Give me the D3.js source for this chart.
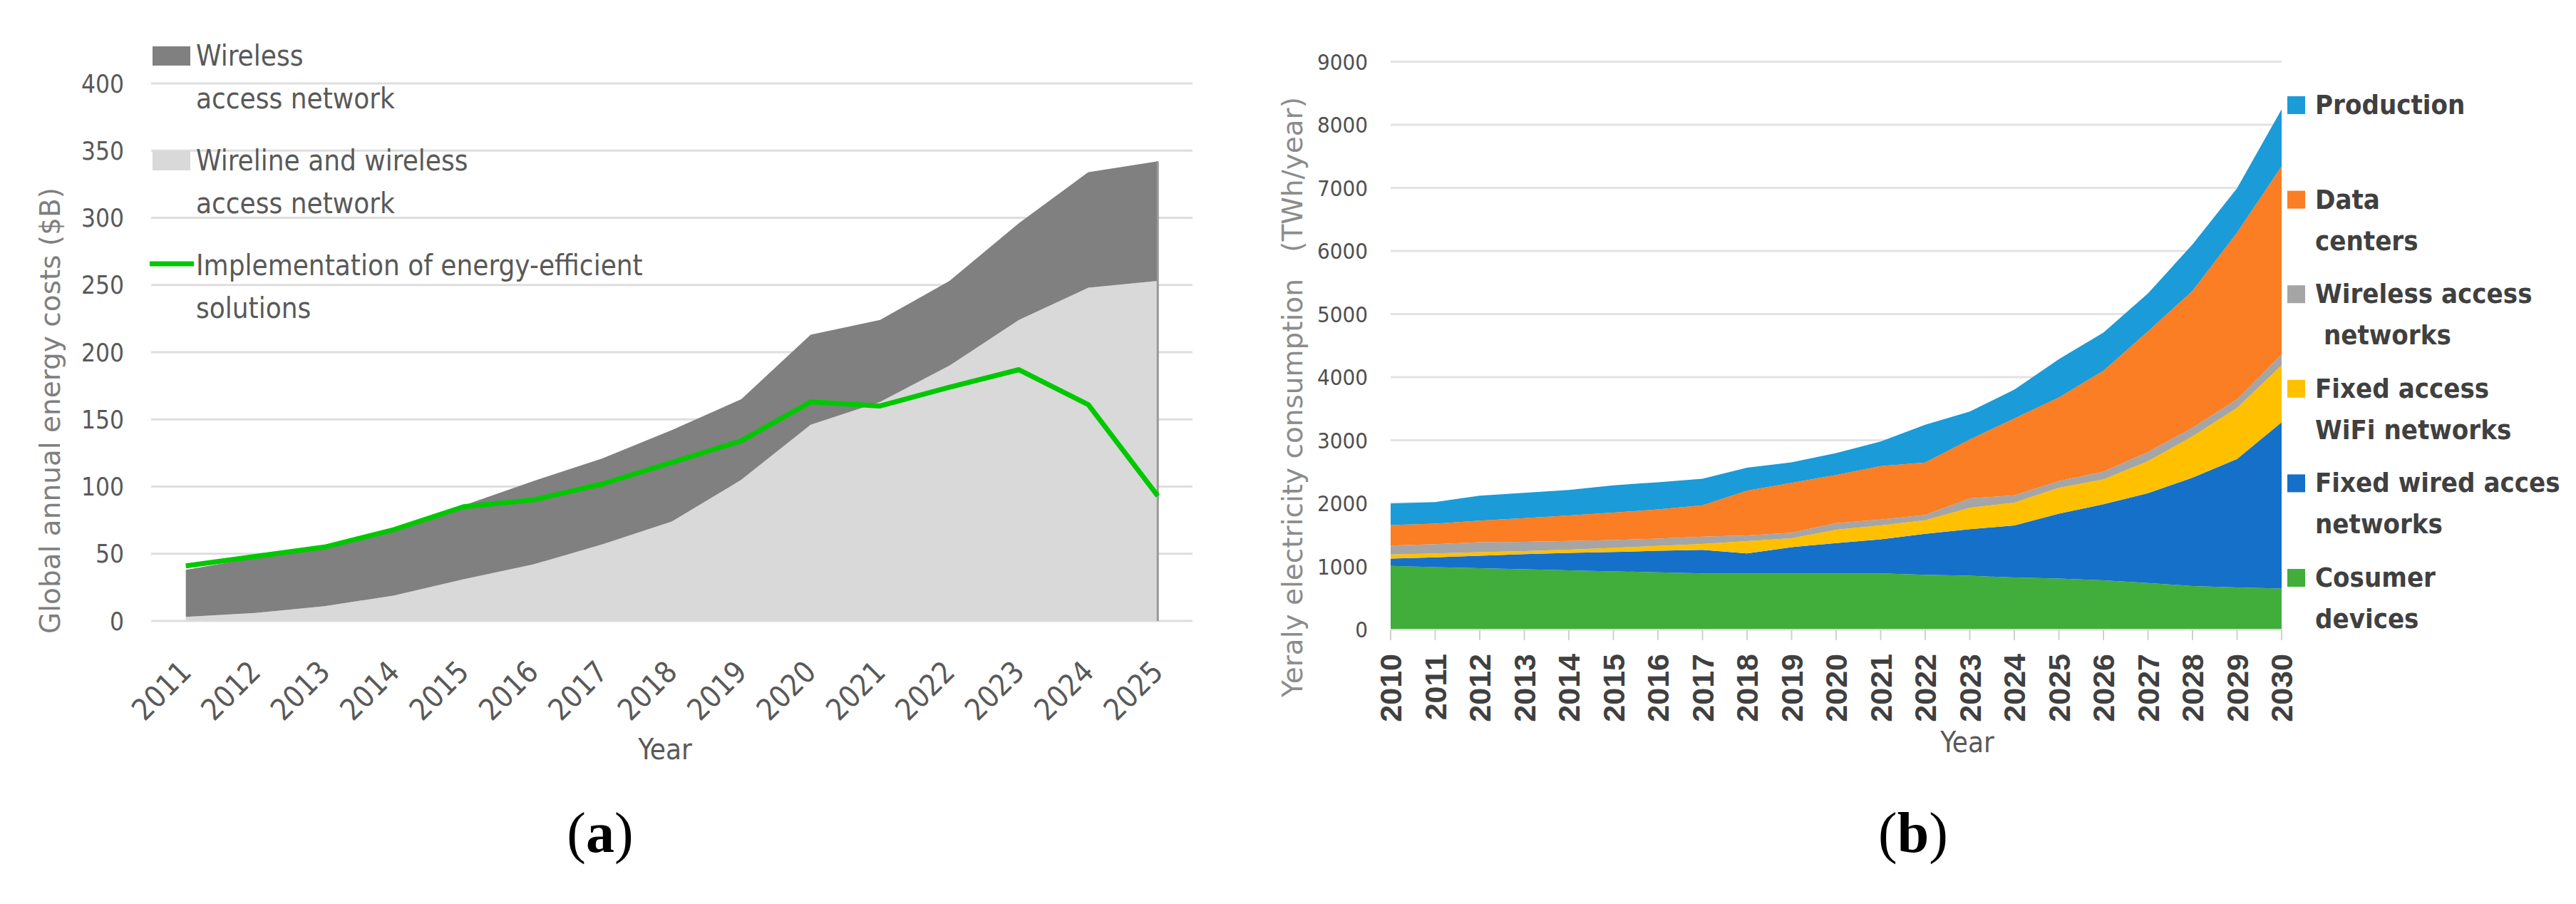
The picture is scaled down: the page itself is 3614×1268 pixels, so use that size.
<!DOCTYPE html>
<html>
<head>
<meta charset="utf-8">
<script src="https://cdn.jsdelivr.net/npm/d3@7"></script>
<style>
  html, body { margin: 0; padding: 0; background: #fff; }
  .cond { font-family: "DejaVu Sans Condensed", "DejaVu Sans", sans-serif; font-stretch: condensed; }
</style>
</head>
<body>
<svg id="fig" width="3614" height="1268"></svg>
<script>
// ---- panel (a): global annual energy costs ----
const yearsA = [2011, 2012, 2013, 2014, 2015, 2016, 2017, 2018, 2019, 2020, 2021, 2022, 2023, 2024, 2025];
const wirelineWireless = [3, 6, 11, 19, 31, 42, 57, 74, 105, 146, 163, 190, 224, 248, 253];
const wirelessOnly = [35, 41, 43, 50, 55, 62, 64, 68, 60, 67, 61, 63, 72, 86, 89]; // stacked on top
const efficient = [41, 48, 55, 68, 85, 90, 102, 118, 134, 163, 160, 174, 187, 161, 93];
const ticksA = [0, 50, 100, 150, 200, 250, 300, 350, 400];

// ---- panel (b): yearly electricity consumption ----
const yearsB = d3.range(2010, 2031);
const consumer   = [1010, 990, 971, 956, 938, 922, 908, 889, 889, 889, 889, 891, 866, 852, 824, 809, 780, 736, 690, 668, 651];
const fixedWired = [115, 155, 199, 239, 277, 306, 340, 373, 316, 417, 481, 539, 651, 738, 826, 1027, 1205, 1425, 1716, 2037, 2635];
const fixedWifi  = [65, 60, 55, 49, 50, 67, 77, 94, 197, 140, 212, 220, 215, 340, 361, 409, 393, 505, 657, 806, 905];
const wireless   = [140, 147, 158, 146, 139, 122, 117, 115, 89, 87, 106, 93, 84, 149, 116, 107, 124, 149, 135, 140, 168];
const dataCenters = [325, 325, 343, 375, 404, 435, 462, 497, 709, 792, 762, 847, 830, 934, 1219, 1326, 1599, 1913, 2170, 2642, 2984];
const production = [342, 343, 396, 402, 405, 435, 431, 422, 366, 325, 348, 390, 599, 443, 457, 607, 607, 601, 736, 703, 905];
const ticksB = d3.range(0, 9001, 1000);

const seriesB = [
  {key: "consumer", values: consumer, color: "#41ad3a", label: ["Cosumer", "devices"]},
  {key: "fixedWired", values: fixedWired, color: "#1570ca", label: ["Fixed wired acces", "networks"]},
  {key: "fixedWifi", values: fixedWifi, color: "#ffc000", label: ["Fixed access", "WiFi networks"]},
  {key: "wireless", values: wireless, color: "#a5a5a5", label: ["Wireless access", "\u00a0networks"]},
  {key: "dataCenters", values: dataCenters, color: "#fb7d24", label: ["Data", "centers"]},
  {key: "production", values: production, color: "#1b9bd7", label: ["Production"]}
];

const svg = d3.select("#fig");

// ================= panel (a) =================
const gA = svg.append("g");
const xA = d3.scalePoint().domain(yearsA).range([212, 1673]).padding(0.5);
const yA = d3.scaleLinear().domain([0, 400]).range([871, 117]);

gA.selectAll("line.grid")
  .data(ticksA)
  .enter()
  .append("line")
  .attr("x1", 212).attr("x2", 1673)
  .attr("y1", d => yA(d)).attr("y2", d => yA(d))
  .attr("stroke", "#dedede")
  .attr("stroke-width", 3);

gA.selectAll("text.ytick")
  .data(ticksA)
  .enter()
  .append("text")
  .attr("class", "cond")
  .attr("x", 174)
  .attr("y", d => yA(d))
  .attr("dy", "0.36em")
  .attr("text-anchor", "end")
  .attr("font-size", "35px")
  .attr("fill", "#595959")
  .text(d => d);

const rowsA = yearsA.map((yr, i) => ({year: yr, light: wirelineWireless[i], dark: wirelessOnly[i]}));
const stackA = d3.stack().keys(["light", "dark"])(rowsA);
const areaA = d3.area()
  .x(d => xA(d.data.year))
  .y0(d => yA(d[0]))
  .y1(d => yA(d[1]));

gA.selectAll("path.area")
  .data(stackA)
  .enter()
  .append("path")
  .attr("d", areaA)
  .attr("fill", d => d.key === "light" ? "#d9d9d9" : "#808080");

// right edge of the filled area
const lastA = rowsA[rowsA.length - 1];
gA.append("line")
  .attr("x1", xA(lastA.year)).attr("x2", xA(lastA.year))
  .attr("y1", yA(0)).attr("y2", yA(lastA.light + lastA.dark))
  .attr("stroke", "#999")
  .attr("stroke-width", 3);

gA.append("path")
  .datum(yearsA.map((yr, i) => [yr, efficient[i]]))
  .attr("d", d3.line().x(d => xA(d[0])).y(d => yA(d[1])))
  .attr("fill", "none")
  .attr("stroke", "#00c800")
  .attr("stroke-width", 7)
  .attr("stroke-linejoin", "round");

gA.selectAll("text.xtick")
  .data(yearsA)
  .enter()
  .append("text")
  .attr("class", "cond")
  .attr("text-anchor", "end")
  .attr("transform", d => `translate(${xA(d) + 10},945) rotate(-45)`)
  .attr("font-size", "42px")
  .attr("fill", "#595959")
  .text(d => d);

gA.append("text")
  .attr("class", "cond")
  .attr("x", 933).attr("y", 1065)
  .attr("text-anchor", "middle")
  .attr("font-size", "40px")
  .attr("fill", "#595959")
  .text("Year");

gA.append("text")
  .attr("transform", "translate(84,576) rotate(-90)")
  .attr("text-anchor", "middle")
  .attr("font-family", "DejaVu Sans, sans-serif")
  .attr("font-size", "39px")
  .attr("fill", "#7f7f7f")
  .text("Global annual energy costs ($B)");

// legend (a)
const legendA = [
  {type: "rect", color: "#808080", lines: ["Wireless", "access network"]},
  {type: "rect", color: "#d9d9d9", lines: ["Wireline and wireless", "access network"]},
  {type: "line", color: "#00c800", lines: ["Implementation of energy-efficient", "solutions"]}
];
const legA = gA.selectAll("g.leg")
  .data(legendA)
  .enter()
  .append("g")
  .attr("transform", (d, i) => `translate(0,${92 + i * 147})`);

legA.filter(d => d.type === "rect")
  .append("rect")
  .attr("x", 214).attr("y", -27)
  .attr("width", 53).attr("height", 27)
  .attr("fill", d => d.color);

legA.filter(d => d.type === "line")
  .append("line")
  .attr("x1", 210).attr("x2", 272)
  .attr("y1", -16).attr("y2", -16)
  .attr("stroke", d => d.color)
  .attr("stroke-width", 7);

legA.each(function(d) {
  d3.select(this).selectAll("text")
    .data(d.lines)
    .enter()
    .append("text")
    .attr("class", "cond")
    .attr("x", 275)
    .attr("y", (t, j) => j * 60)
    .attr("font-size", "40px")
    .attr("fill", "#595959")
    .text(t => t);
});

// caption (a)
const capA = svg.append("text")
  .attr("x", 842).attr("y", 1195)
  .attr("text-anchor", "middle")
  .attr("font-family", "Liberation Serif, serif")
  .attr("font-size", "80px")
  .attr("fill", "#000");
capA.append("tspan").text("(");
capA.append("tspan").attr("font-weight", "bold").text("a");
capA.append("tspan").text(")");

// ================= panel (b) =================
const gB = svg.append("g");
const xB = d3.scaleLinear().domain([2010, 2030]).range([1951, 3201]);
const yB = d3.scaleLinear().domain([0, 9000]).range([883, 86.6]);

gB.selectAll("line.grid")
  .data(ticksB)
  .enter()
  .append("line")
  .attr("x1", 1951).attr("x2", 3201)
  .attr("y1", d => yB(d)).attr("y2", d => yB(d))
  .attr("stroke", "#e3e3e3")
  .attr("stroke-width", 3);

gB.selectAll("text.ytick")
  .data(ticksB)
  .enter()
  .append("text")
  .attr("class", "cond")
  .attr("x", 1919)
  .attr("y", d => yB(d))
  .attr("dy", "0.36em")
  .attr("text-anchor", "end")
  .attr("font-size", "31px")
  .attr("fill", "#505050")
  .text(d => d);

const rowsB = yearsB.map((yr, i) => {
  const r = {year: yr};
  seriesB.forEach(s => r[s.key] = s.values[i]);
  return r;
});
const stackB = d3.stack().keys(seriesB.map(s => s.key))(rowsB);
const areaB = d3.area()
  .x(d => xB(d.data.year))
  .y0(d => yB(d[0]))
  .y1(d => yB(d[1]));
const colorB = new Map(seriesB.map(s => [s.key, s.color]));

gB.selectAll("path.area")
  .data(stackB)
  .enter()
  .append("path")
  .attr("d", areaB)
  .attr("fill", d => colorB.get(d.key));

gB.selectAll("line.tick")
  .data(yearsB)
  .enter()
  .append("line")
  .attr("x1", d => xB(d)).attr("x2", d => xB(d))
  .attr("y1", 883).attr("y2", 898)
  .attr("stroke", "#d0d0d0")
  .attr("stroke-width", 2);

gB.append("line")
  .attr("x1", 1951).attr("x2", 3201)
  .attr("y1", 883).attr("y2", 883)
  .attr("stroke", "#d9d9d9")
  .attr("stroke-width", 2);

gB.selectAll("text.xtick")
  .data(yearsB)
  .enter()
  .append("text")
  .attr("text-anchor", "end")
  .attr("transform", d => `translate(${xB(d)},917) rotate(-90)`)
  .attr("dy", "0.36em")
  .attr("font-family", "Liberation Sans, Arial, sans-serif")
  .attr("font-weight", "bold")
  .attr("font-size", "43px")
  .attr("fill", "#404040")
  .text(d => d);

gB.append("text")
  .attr("class", "cond")
  .attr("x", 2760).attr("y", 1055)
  .attr("text-anchor", "middle")
  .attr("font-size", "40px")
  .attr("fill", "#595959")
  .text("Year");

gB.append("text")
  .attr("transform", "translate(1827,557) rotate(-90)")
  .attr("text-anchor", "middle")
  .attr("font-family", "DejaVu Sans, sans-serif")
  .attr("font-size", "39px")
  .attr("fill", "#8c8c8c")
  .text("Yeraly electricity consumption\u00a0\u00a0\u00a0(TWh/year)");

// legend (b), top entry first
const legendB = seriesB.slice().reverse();
const legB = gB.selectAll("g.leg")
  .data(legendB)
  .enter()
  .append("g")
  .attr("transform", (d, i) => `translate(0,${160 + i * 132.6})`);

legB.append("rect")
  .attr("x", 3209).attr("y", -25)
  .attr("width", 25).attr("height", 25)
  .attr("fill", d => d.color);

legB.each(function(d) {
  d3.select(this).selectAll("text")
    .data(d.label)
    .enter()
    .append("text")
    .attr("class", "cond")
    .attr("x", 3248)
    .attr("y", (t, j) => j * 58)
    .attr("font-size", "38px")
    .attr("font-weight", "bold")
    .attr("fill", "#404040")
    .text(t => t);
});

// caption (b)
const capB = svg.append("text")
  .attr("x", 2684).attr("y", 1195)
  .attr("text-anchor", "middle")
  .attr("font-family", "Liberation Serif, serif")
  .attr("font-size", "80px")
  .attr("fill", "#000");
capB.append("tspan").text("(");
capB.append("tspan").attr("font-weight", "bold").text("b");
capB.append("tspan").text(")");
</script>
</body>
</html>
